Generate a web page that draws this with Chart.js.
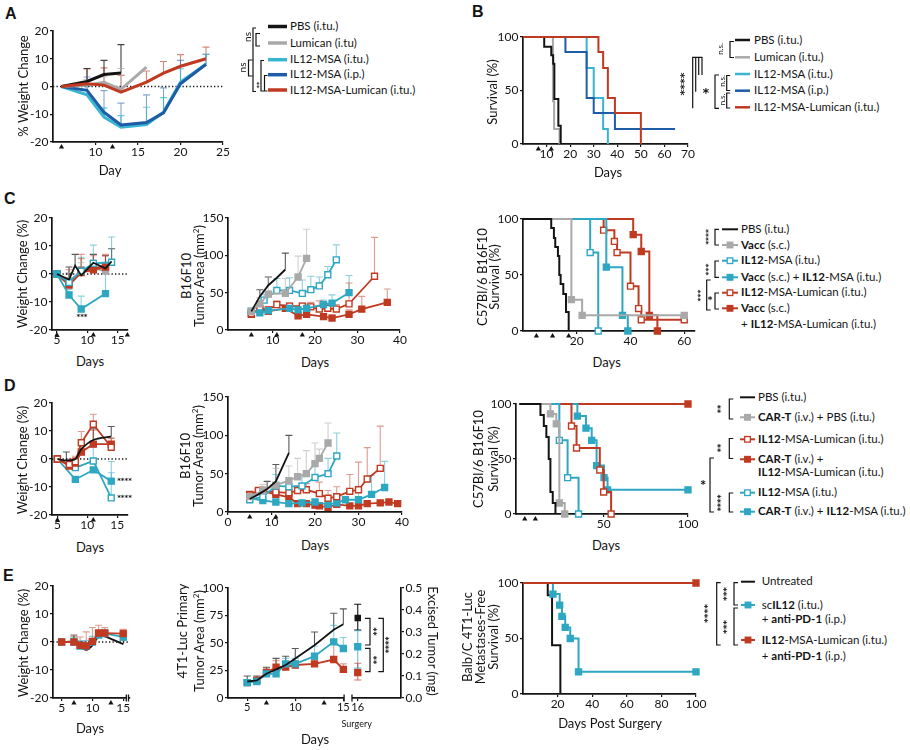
<!DOCTYPE html>
<html lang="en">
<head>
<meta charset="UTF-8" />
<title>IL12-MSA-Lumican figure</title>
<script src="https://cdn.jsdelivr.net/npm/chart.js"></script>
<style>
  body { margin: 0; background: #fff; }
  #fig { position: relative; width: 910px; height: 750px; overflow: hidden;
         font-family: "Liberation Sans Narrow", Lato, "Noto Sans", sans-serif; color: #141414; }
  #fig canvas { position: absolute; }
  .t { position: absolute; white-space: nowrap; font-size: 13px; line-height: 1; }
  .lg { position: absolute; white-space: nowrap; font-size: 11.5px; line-height: 14px; }
  .lt { position: absolute; font-weight: bold; font-size: 16px; line-height: 1; font-family: "Liberation Sans", Arial, sans-serif; }
  svg.ov { position: absolute; left: 0; top: 0; }
</style>
</head>
<body>
<div id="fig"></div>
<script>
const INK = '#141414', GREY = '#a9a9a9', CYAN = '#38b5d0', BLUE = '#1f5ca8', RED = '#c03a22', TEAL = '#2ea7c2';
const FONT = '"Liberation Sans Narrow", Lato, "Noto Sans", sans-serif';
const STAR_FONT = '"DejaVu Sans", sans-serif';

// ---------- A: weight change ----------
const aDays = [6, 9, 11, 13, 16, 18, 20, 23];
const aPBS = [0, 1.8, 4.3, 4.9];
const aPBSErr = [0, 4.7, 5.1, 10.2];
const aLum = [0, 0.5, 1.5, -1, 7];
const aLumErr = [0, 2, 2, 7.5, 0];
const aIL12itu = [0, -3, -11, -14.7, -13.7, -9.3, 1.6, 8];
const aIL12ituErr = [0, 3, 3.3, 4.2, 6.2, 5.3, 4.8, 3.6];
const aIL12ip = [0, -1.4, -9.3, -13.9, -13, -9.5, 1, 8];
const aIL12ipErr = [0, 4.8, 7.8, 7.9, 10, 9, 8.4, 3.6];
const aIL12Lum = [0, 1, 0.5, -2, 1.6, 4.8, 7.3, 10];
const aIL12LumErr = [0, 5.3, 6.2, 6, 4, 4.2, 4.2, 4.2];
const aXTicks = [10, 15, 20, 25];
const aDoses = [6, 12];
const weightTicks = [-20, -10, 0, 10, 20];

// ---------- B: survival ----------
const bPBSx = [0, 9, 12, 12.8, 13.3, 15, 16], bPBSy = [100, 91, 83, 75, 42, 17, 0];
const bLumX = [0, 12.7, 13.2, 15.5], bLumY = [100, 40, 14, 0];
const bItuX = [0, 27, 30, 34, 36], bItuY = [100, 71, 43, 14, 0];
const bIpX = [0, 18, 27, 30, 39, 64.5], bIpY = [100, 86, 43, 29, 14, 14];
const bLumIlX = [0, 32, 34, 36, 39, 50], bLumIlY = [100, 86, 71, 43, 29, 0];
const bXTicks = [10, 20, 30, 40, 50, 60, 70];
const bDoses = [6.5, 12];
const survTicks = [0, 50, 100];

// ---------- C: weight ----------
const cwPBSx = [5, 7, 8, 9, 11, 13, 14], cwPBS = [0, -2, 3, -0.5, 4, 2, 4.5], cwPBSErr = [0, 4.5, 4, 3, 3, 4.5, 4.5];
const cwVaccX = [5, 7, 9, 11, 13], cwVacc = [0, -2.5, 1, 2, 1], cwVaccErr = [0, 3, 3, 3, 3];
const cwIL12x = [5, 7, 9, 11, 14], cwIL12 = [0, -3, 1, 3.8, 4.2], cwIL12Err = [0, 3, 5, 6.5, 9];
const cwVaccIL12x = [5, 7, 9, 13], cwVaccIL12 = [0, -7.5, -12.5, -7], cwVaccIL12Err = [0, 2, 4.6, 9];
const cwLumX = [5, 7, 9, 11, 13], cwLum = [0, -3.5, 1, 2, 3], cwLumErr = [0, 5, 6, 4.5, 4];
const cwVaccLum = [0, -4, 0.5, 1.5, 2.5], cwVaccLumErr = [0, 4, 5, 3, 4];
const smallDayTicks = [5, 10, 15];
const cwDoses = [5, 11, 16.6];

// ---------- C: tumor area ----------
const ctPBSx = [5, 7, 9, 11, 13], ctPBS = [25, 45, 60, 70, 81], ctPBSErr = [0, 9, 11, 0, 22];
const ctVaccX = [5, 7, 9, 13, 16, 18], ctVacc = [25, 35, 48, 49, 71, 96], ctVaccErr = [0, 8, 23, 20, 28, 39];
const ctIL12x = [5, 8, 11, 14, 17, 19, 21, 23, 25], ctIL12 = [25, 40, 53, 53, 49, 54, 59, 74, 94], ctIL12Err = [0, 8, 16, 17, 18, 18, 12, 11, 20];
const ctVaccIL12x = [5, 7, 9, 14, 16, 18, 22, 24, 28], ctVaccIL12 = [25, 23, 26, 29, 27, 29, 34, 36, 50], ctVaccIL12Err = [0, 0, 3, 4, 4, 6, 6, 11, 23];
const ctLumX = [5, 7, 9, 11, 14, 17, 19, 21, 23, 25, 28, 34], ctLum = [22, 28, 27, 34, 32, 32, 31, 28, 29, 28, 35, 72], ctLumErr = [3, 9, 4, 5, 4, 4, 6, 11, 7, 6, 28, 52];
const ctVaccLumX = [5, 7, 9, 13, 16, 18, 22, 24, 28, 31, 37], ctVaccLum = [21, 28, 25, 29, 19, 21, 18, 16, 21, 28, 37], ctVaccLumErr = [3, 5, 4, 4, 4, 4, 4, 4, 6, 17, 18];
const tumorTicks = [0, 50, 100, 150];
const ctXTicks = [10, 20, 30, 40];
const ctDoses = [5, 11, 17];

// ---------- C: survival ----------
const csPBSx = [0, 10.5, 11.5, 12, 13, 13.5, 14, 15, 16, 17], csPBSy = [100, 92, 83, 75, 67, 50, 42, 33, 17, 0];
const csVaccX = [0, 18, 22, 60], csVaccY = [100, 28, 14, 14];
const csIL12x = [0, 25, 28], csIL12y = [100, 70, 0];
const csVaccIL12x = [0, 31, 37, 39], csVaccIL12y = [100, 57, 14, 0];
const csLumX = [0, 30, 34, 35, 40, 43, 44, 60], csLumY = [100, 90, 80, 70, 40, 20, 10, 10];
const csVaccLumX = [0, 41, 44, 47, 50], csVaccLumY = [100, 86, 71, 14, 0];
const csXTicks = [20, 40, 60];
const csDoses = [5, 11, 17];

// ---------- D: weight ----------
const dwPBSx = [5, 6.5, 8, 9, 11, 14], dwPBS = [0, -0.5, 0, 3.5, 6.8, 8], dwPBSErr = [0, 3, 0, 0, 4, 3.6];
const dwLumX = [5, 7, 8, 9, 11, 14], dwLum = [0, -2, -1, 5.8, 12.4, 4.2], dwLumErr = [0, 2, 2, 4, 3.6, 3.4];
const dwCarLum = [0, -2.5, -1.5, 2.5, 5.3, 5.3], dwCarLumErr = [0, 2, 2, 4, 5, 2];
const dwIL12x = [5, 8, 11, 14], dwIL12 = [0, -3.1, -0.7, -13.9], dwIL12Err = [0, 2, 5, 13];
const dwCarIL12 = [0, -7.3, -3.9, -7.9], dwCarIL12Err = [0, 0, 0, 3];
const dwDoses = [5, 11];

// ---------- D: tumor area ----------
const dtPBSx = [5, 7, 9, 11, 14], dtPBS = [17, 23, 30, 40, 77], dtPBSErr = [0, 5, 10, 22, 23];
const dtCarX = [5, 8, 11, 14, 16, 18, 20, 21, 23], dtCar = [20, 28, 35, 41, 46, 50, 63, 70, 90], dtCarErr = [0, 8, 22, 19, 24, 30, 27, 12, 26];
const dtIL12x = [5, 8, 11, 14, 17, 20, 23, 25], dtIL12 = [16, 20, 34, 33, 34, 45, 50, 73], dtIL12Err = [0, 0, 15, 10, 12, 20, 20, 30];
const dtCarIL12x = [5, 8, 11, 14, 17, 20, 23, 25, 27, 30, 33, 36], dtCarIL12 = [18, 15, 13, 11, 12, 13, 10, 12, 16, 16, 23, 32], dtCarIL12Err = [0, 0, 0, 0, 0, 0, 0, 0, 3, 15, 25, 34];
const dtLumX = [5, 7, 8, 11, 14, 16, 18, 21, 23, 25, 28, 30, 32, 35], dtLum = [22, 28, 27, 26, 25, 28, 29, 24, 18, 20, 27, 29, 43, 57], dtLumErr = [4, 4, 6, 6, 5, 6, 8, 15, 10, 13, 22, 36, 41, 55];
const dtCarLumX = [5, 7, 8, 11, 14, 16, 18, 20, 21, 23, 25, 28, 30, 32, 35, 37, 39], dtCarLum = [23, 27, 27, 23, 19, 11, 11, 9, 8, 6, 10, 8, 8, 11, 12, 13, 11], dtCarLumErr = [3, 3, 3, 3, 3, 2, 2, 2, 2, 2, 2, 2, 2, 2, 2, 2, 2];
const dtXTicks = [0, 10, 20, 30, 40];
const dtDoses = [5, 11];

// ---------- D: survival ----------
const dsPBSx = [0, 12.5, 14.5, 16, 17.4, 18.4, 19.8, 21.4], dsPBSy = [100, 90, 80, 70, 50, 20, 10, 0];
const dsCarX = [0, 18.4, 21.9, 23.7, 26.9], dsCarY = [100, 91, 82, 10, 0];
const dsLumX = [0, 30.9, 33.9, 47.7, 50, 54.4], dsLumY = [100, 80, 60, 40, 20, 0];
const dsCarLumX = [0, 100], dsCarLumY = [100, 100];
const dsIL12x = [0, 23.7, 28.6, 35.1], dsIL12y = [100, 67, 33, 0];
const dsCarIL12x = [0, 34.4, 39.5, 42.9, 45.8, 50.2, 52.3, 100], dsCarIL12y = [100, 89, 78, 67, 44, 33, 22, 22];
const dsXTicks = [50, 100];
const dsDoses = [3.2, 9.5];

// ---------- E: weight ----------
const ewDays = [5, 7, 8, 9, 10, 11, 12, 15];
const ewLum = [0, 0, -1.2, -1.4, 0.2, 3.2, 3.2, 3], ewLumErr = [0, 2, 3, 5, 5, 2.8, 2, 1.5];
const ewSc = [0, 0, -1.5, -1.5, 0, 2.5, 3, 1.8], ewScErr = [0, 1.5, 2, 2, 2, 1.5, 1.5, 1.5];
const ewUnt = [0, 0, -1.5, -2.8, -1.2, 2, 2, -0.8], ewUntErr = [0, 2.5, 1.5, 2, 2, 2, 2, 1.5];
const ewDoses = [7, 13];

// ---------- E: primary tumor and excised tumor ----------
const etDays = [5, 6, 7, 8, 9, 10, 12, 14, 15];
const etUnt = [15, 16, 22, 26, 30, 36, 48, 62, 67], etUntErr = [5, 4, 6, 10, 8, 9, 12, 15, 14];
const etSc = [14, 15, 22, 22, 31, 31, 38, 51, 45], etScErr = [2, 3, 4, 4, 5, 5, 9, 15, 10];
const etLum = [14, 16, 23, 28, 28, 30, 31, 35, 26], etLumErr = [2, 3, 4, 6, 5, 4, 4, 14, 5];
const etXTicks = [5, 10, 15, 16.5], etXLabels = ['5', '10', '15', '16'];
const etYTicks = [0, 25, 50, 75, 100];
const exDay = [16.5];
const exUnt = [0.364], exUntUp = [0.062], exUntLo = [0.055];
const exSc = [0.233], exScUp = [0.073], exScLo = [0.097];
const exLum = [0.115], exLumUp = [0.043], exLumLo = [0.033];
const exTicks = [0, 0.1, 0.2, 0.3, 0.4, 0.5];
const etDoses = [7, 13];

// ---------- E: metastasis-free survival ----------
const esUntX = [0, 14.3, 16.8, 21.6], esUntY = [100, 89, 44, 0];
const esScX = [0, 17.3, 21.2, 22.5, 24.4, 27.3, 32.1, 100], esScY = [100, 90, 80, 70, 60, 50, 20, 20];
const esLumX = [0, 100], esLumY = [100, 100];
const esXTicks = [20, 40, 60, 80, 100];

// ================= plugins =================
const errorBars = {
  id: 'errorBars',
  beforeDatasetsDraw(chart) {
    const ctx = chart.ctx;
    chart.data.datasets.forEach((ds, i) => {
      if (!ds.err) return;
      const meta = chart.getDatasetMeta(i), ys = chart.scales[meta.yAxisID];
      ctx.save();
      ctx.strokeStyle = ds.errColor || ds.borderColor;
      ctx.lineWidth = 1.1;
      meta.data.forEach((p, j) => {
        const e = ds.err[j];
        if (!e) return;
        const v = ds.data[j].y;
        const top = ys.getPixelForValue(v + e);
        const lo = ds.errLo ? ds.errLo[j] : 0;
        const bot = lo ? ys.getPixelForValue(v - lo) : p.y;
        ctx.beginPath();
        ctx.moveTo(p.x, bot); ctx.lineTo(p.x, top);
        ctx.moveTo(p.x - 3.5, top); ctx.lineTo(p.x + 3.5, top);
        if (lo) { ctx.moveTo(p.x - 3.5, bot); ctx.lineTo(p.x + 3.5, bot); }
        ctx.stroke();
      });
      ctx.restore();
    });
  }
};

const doses = {
  id: 'doses',
  afterDraw(chart, args, opts) {
    if (!opts.days) return;
    const {ctx, chartArea} = chart, x = chart.scales.x;
    ctx.save();
    ctx.fillStyle = INK;
    opts.days.forEach(d => {
      const px = x.getPixelForValue(d), py = chartArea.bottom + 2;
      ctx.beginPath();
      ctx.moveTo(px, py); ctx.lineTo(px - 2.6, py + 4.5); ctx.lineTo(px + 2.6, py + 4.5);
      ctx.closePath(); ctx.fill();
    });
    ctx.restore();
  }
};

const axisBreak = {
  id: 'axisBreak',
  afterDraw(chart, args, opts) {
    if (!opts.at) return;
    const {ctx, chartArea} = chart, x = chart.scales.x, y = chartArea.bottom;
    const p1 = x.getPixelForValue(opts.at[0]), p2 = x.getPixelForValue(opts.at[1]);
    ctx.save();
    ctx.fillStyle = '#fff';
    ctx.fillRect(p1, y - 2, p2 - p1, 4);
    ctx.strokeStyle = INK; ctx.lineWidth = 1.3;
    ctx.beginPath();
    [p1, p2].forEach(p => { ctx.moveTo(p, y - 3.5); ctx.lineTo(p, y + 3.5); });
    ctx.stroke();
    ctx.restore();
  }
};
Chart.register(errorBars, doses, axisBreak);

// ================= helpers =================
const fig = document.getElementById('fig');
const YW = 34, YR = 30, XH = 22, PT = 8, PR = 14;

function pts(xs, ys) { return ys.map((y, i) => ({x: xs[i], y})); }
function line(label, xs, ys, color, w, extra) {
  return Object.assign({label, data: pts(xs, ys), borderColor: color, backgroundColor: color,
    borderWidth: w, pointRadius: 0, clip: false, tension: 0, fill: false}, extra || {});
}
function marked(label, xs, ys, color, open, extra) {
  return line(label, xs, ys, color, 1.8, Object.assign({pointStyle: 'rect', pointRadius: 4.2,
    pointBorderWidth: 1.4, pointBorderColor: color, pointBackgroundColor: open ? '#fff' : color}, extra || {}));
}
function km(label, xs, ys, color, mk, open) {
  const ds = line(label, xs, ys, color, 2, {stepped: 'before'});
  if (mk) Object.assign(ds, {pointStyle: 'rect', pointRadius: ys.map((_, i) => i ? 4.2 : 0),
    pointBorderWidth: 1.4, pointBorderColor: color, pointBackgroundColor: open ? '#fff' : color});
  return ds;
}
function zero(x0, x1) { return line('zero', [x0, x1], [0, 0], INK, 1.3, {borderDash: [1.3, 2.2]}); }
function eb(color, a) { return color.replace(/^#(..)(..)(..)$/, (m, r, g, b) => `rgba(${parseInt(r, 16)},${parseInt(g, 16)},${parseInt(b, 16)},${a})`); }

function axis(pos, min, max, ticks, labels, size) {
  const horiz = pos === 'bottom';
  const cfg = {
    type: 'linear', position: pos, min, max,
    border: {display: true, color: INK, width: 1.7},
    grid: {drawOnChartArea: false, color: INK, lineWidth: 1.2, tickLength: 3},
    ticks: {color: INK, font: {family: FONT, size: size || 12}, padding: horiz ? 0 : 1.5, autoSkip: false, maxRotation: 0},
    afterBuildTicks: s => { s.ticks = ticks.map(v => ({value: v})); },
    afterFit: s => {
      if (horiz) s.height = XH; else s.width = pos === 'right' ? YR : YW;
      s.paddingLeft = s.paddingRight = s.paddingTop = s.paddingBottom = 0;
    }
  };
  if (labels) cfg.ticks.callback = (v, i) => labels[i];
  return cfg;
}

function plot(box, scales, datasets, plugins, yr) {
  yr = yr || 0;
  const [l, t, r, b] = box.map(Math.round);
  const W = r - l + YW + PR + yr, H = b - t + PT + XH;
  const cv = document.createElement('canvas');
  cv.width = W; cv.height = H;
  cv.style.left = (l - YW) + 'px'; cv.style.top = (t - PT) + 'px';
  cv.style.width = W + 'px'; cv.style.height = H + 'px';
  fig.appendChild(cv);
  return new Chart(cv, {
    type: 'line',
    data: {datasets},
    options: {
      responsive: false, animation: false, events: [],
      layout: {padding: {top: PT, right: PR, left: 0, bottom: 0}},
      plugins: Object.assign({legend: {display: false}, tooltip: {enabled: false}}, plugins || {}),
      scales
    }
  });
}

// ================= charts =================
// A
plot([53, 31, 222.5, 142], {x: axis('bottom', 5, 25, aXTicks), y: axis('left', -20, 20, weightTicks)}, [
  line('IL12-MSA-Lumican', aDays, aIL12Lum, RED, 3, {err: aIL12LumErr, errColor: eb(RED, 0.6)}),
  line('PBS', aDays, aPBS, INK, 3, {err: aPBSErr, errColor: eb(INK, 0.8)}),
  line('Lumican', aDays, aLum, GREY, 3, {err: aLumErr, errColor: eb(GREY, 0.7)}),
  line('IL12-MSA i.p.', aDays, aIL12ip, BLUE, 3, {err: aIL12ipErr, errColor: eb(BLUE, 0.55)}),
  line('IL12-MSA i.tu.', aDays, aIL12itu, CYAN, 3, {err: aIL12ituErr, errColor: eb(CYAN, 0.7)}),
  zero(5, 25)
], {doses: {days: aDoses}});

// B
plot([523, 37.3, 688.3, 144], {x: axis('bottom', 0, 70, bXTicks), y: axis('left', 0, 100, survTicks)}, [
  km('IL12-MSA-Lumican', bLumIlX, bLumIlY, RED),
  km('IL12-MSA i.p.', bIpX, bIpY, BLUE),
  km('IL12-MSA i.tu.', bItuX, bItuY, CYAN),
  km('PBS', bPBSx, bPBSy, INK),
  km('Lumican', bLumX, bLumY, GREY)
], {doses: {days: bDoses}});

// C weight
plot([52.3, 218.3, 128.3, 330], {x: axis('bottom', 4.2, 16.7, smallDayTicks), y: axis('left', -20, 20, weightTicks)}, [
  line('PBS', cwPBSx, cwPBS, INK, 1.8, {err: cwPBSErr, errColor: eb(INK, 0.7)}),
  marked('Vacc + IL12-MSA', cwVaccIL12x, cwVaccIL12, TEAL, false, {err: cwVaccIL12Err, errColor: eb(TEAL, 0.55)}),
  marked('IL12-MSA', cwIL12x, cwIL12, TEAL, true, {err: cwIL12Err, errColor: eb(TEAL, 0.55)}),
  marked('Vacc + IL12-MSA-Lumican', cwLumX, cwVaccLum, RED, false, {err: cwVaccLumErr, errColor: eb(RED, 0.5)}),
  marked('IL12-MSA-Lumican', cwLumX, cwLum, RED, true, {err: cwLumErr, errColor: eb(RED, 0.5)}),
  marked('Vacc', cwVaccX, cwVacc, GREY, false, {err: cwVaccErr, errColor: eb(GREY, 0.6)}),
  zero(4.2, 16.7)
], {doses: {days: cwDoses}});

// C tumor
plot([228.3, 218.3, 400, 330], {x: axis('bottom', -0.5, 40, ctXTicks), y: axis('left', 0, 150, tumorTicks)}, [
  line('PBS', ctPBSx, ctPBS, INK, 1.8, {err: ctPBSErr, errColor: eb(INK, 0.7)}),
  marked('Vacc', ctVaccX, ctVacc, GREY, false, {err: ctVaccErr, errColor: eb(GREY, 0.55)}),
  marked('IL12-MSA', ctIL12x, ctIL12, TEAL, true, {err: ctIL12Err, errColor: eb(TEAL, 0.55)}),
  marked('Vacc + IL12-MSA', ctVaccIL12x, ctVaccIL12, TEAL, false, {err: ctVaccIL12Err, errColor: eb(TEAL, 0.55)}),
  marked('IL12-MSA-Lumican', ctLumX, ctLum, RED, true, {err: ctLumErr, errColor: eb(RED, 0.5)}),
  marked('Vacc + IL12-MSA-Lumican', ctVaccLumX, ctVaccLum, RED, false, {err: ctVaccLumErr, errColor: eb(RED, 0.5)})
], {doses: {days: ctDoses}});

// C survival
plot([523.3, 219.3, 695, 330.7], {x: axis('bottom', 0, 64, csXTicks), y: axis('left', 0, 100, survTicks)}, [
  km('PBS', csPBSx, csPBSy, INK),
  km('Vacc', csVaccX, csVaccY, GREY, true, false),
  km('IL12-MSA', csIL12x, csIL12y, TEAL, true, true),
  km('Vacc + IL12-MSA', csVaccIL12x, csVaccIL12y, TEAL, true, false),
  km('IL12-MSA-Lumican', csLumX, csLumY, RED, true, true),
  km('Vacc + IL12-MSA-Lumican', csVaccLumX, csVaccLumY, RED, true, false)
], {doses: {days: csDoses}});

// D weight
plot([51.7, 403.3, 128.3, 515], {x: axis('bottom', 4.1, 16.8, smallDayTicks), y: axis('left', -20, 20, weightTicks)}, [
  line('PBS', dwPBSx, dwPBS, INK, 1.8, {tension: 0.3, err: dwPBSErr, errColor: eb(INK, 0.7)}),
  marked('IL12-MSA-Lumican', dwLumX, dwLum, RED, true, {err: dwLumErr, errColor: eb(RED, 0.5)}),
  marked('CAR-T + IL12-MSA-Lumican', dwLumX, dwCarLum, RED, false, {err: dwCarLumErr, errColor: eb(RED, 0.5)}),
  marked('IL12-MSA', dwIL12x, dwIL12, TEAL, true, {err: dwIL12Err, errColor: eb(TEAL, 0.55)}),
  marked('CAR-T + IL12-MSA', dwIL12x, dwCarIL12, TEAL, false, {err: dwCarIL12Err, errColor: eb(TEAL, 0.55)}),
  zero(4.1, 16.8)
], {doses: {days: dwDoses}});

// D tumor
plot([227.7, 396.7, 401.7, 511.7], {x: axis('bottom', 0, 40, dtXTicks), y: axis('left', 0, 150, tumorTicks)}, [
  line('PBS', dtPBSx, dtPBS, INK, 1.8, {err: dtPBSErr, errColor: eb(INK, 0.7)}),
  marked('CAR-T + PBS', dtCarX, dtCar, GREY, false, {err: dtCarErr, errColor: eb(GREY, 0.55)}),
  marked('IL12-MSA', dtIL12x, dtIL12, TEAL, true, {err: dtIL12Err, errColor: eb(TEAL, 0.55)}),
  marked('IL12-MSA-Lumican', dtLumX, dtLum, RED, true, {err: dtLumErr, errColor: eb(RED, 0.5)}),
  marked('CAR-T + IL12-MSA', dtCarIL12x, dtCarIL12, TEAL, false, {err: dtCarIL12Err, errColor: eb(TEAL, 0.55)}),
  marked('CAR-T + IL12-MSA-Lumican', dtCarLumX, dtCarLum, RED, false, {err: dtCarLumErr, errColor: eb(RED, 0.5)})
], {doses: {days: dtDoses}});

// D survival
plot([515.5, 404, 687.7, 514], {x: axis('bottom', -2, 100, dsXTicks), y: axis('left', 0, 100, survTicks)}, [
  km('PBS', dsPBSx, dsPBSy, INK),
  km('CAR-T + PBS', dsCarX, dsCarY, GREY, true, false),
  km('IL12-MSA', dsIL12x, dsIL12y, TEAL, true, true),
  km('IL12-MSA-Lumican', dsLumX, dsLumY, RED, true, true),
  km('CAR-T + IL12-MSA', dsCarIL12x, dsCarIL12y, TEAL, true, false),
  km('CAR-T + IL12-MSA-Lumican', dsCarLumX, dsCarLumY, RED, true, false)
], {doses: {days: dsDoses}});

// E weight
plot([53.3, 586, 130, 697.7], {x: axis('bottom', 3.6, 16.1, smallDayTicks), y: axis('left', -20, 20, weightTicks)}, [
  marked('IL12-MSA-Lumican + anti-PD-1', ewDays, ewLum, RED, false, {err: ewLumErr, errColor: eb(RED, 0.5)}),
  marked('scIL12 + anti-PD-1', ewDays, ewSc, TEAL, false, {err: ewScErr, errColor: eb(TEAL, 0.55)}),
  line('Untreated', ewDays, ewUnt, INK, 1.8, {tension: 0.3, err: ewUntErr, errColor: eb(INK, 0.6)}),
  zero(3.6, 16.1)
], {doses: {days: ewDoses}, axisBreak: {at: [15.5, 15.85]}});

// E tumor + excised tumor
plot([228.3, 587.7, 400.7, 698.3], {
  x: axis('bottom', 3, 21, etXTicks, etXLabels, 11),
  y: axis('left', 0, 100, etYTicks),
  y2: axis('right', 0, 0.5, exTicks, exTicks.map(v => v.toFixed(1)))
}, [
  line('Untreated', etDays, etUnt, INK, 1.8, {err: etUntErr, errColor: eb(INK, 0.7)}),
  marked('scIL12 + anti-PD-1', etDays, etSc, TEAL, false, {err: etScErr, errColor: eb(TEAL, 0.55)}),
  marked('IL12-MSA-Lumican + anti-PD-1', etDays, etLum, RED, false, {err: etLumErr, errColor: eb(RED, 0.5)}),
  marked('Untreated excised', exDay, exUnt, INK, false, {yAxisID: 'y2', pointRadius: 3.6, err: exUntUp, errLo: exUntLo}),
  marked('scIL12 excised', exDay, exSc, TEAL, false, {yAxisID: 'y2', err: exScUp, errLo: exScLo, errColor: eb(TEAL, 0.7)}),
  marked('Lumican excised', exDay, exLum, RED, false, {yAxisID: 'y2', err: exLumUp, errLo: exLumLo, errColor: eb(RED, 0.7)})
], {doses: {days: etDoses}, axisBreak: {at: [15.08, 15.9]}}, YR);

// E survival
plot([523.3, 583.3, 696, 694], {x: axis('bottom', 0, 100, esXTicks), y: axis('left', 0, 100, survTicks)}, [
  km('IL12-MSA-Lumican + anti-PD-1', esLumX, esLumY, RED, true, false),
  km('scIL12 + anti-PD-1', esScX, esScY, TEAL, true, false),
  km('Untreated', esUntX, esUntY, INK)
]);

// ================= text, legends, brackets =================
const html = [];
const svg = [];
function txt(s, cx, cy, rot, size) {
  const tr = rot ? ` rotate(${rot}deg)` : '';
  html.push(`<div class="t" style="left:${cx}px;top:${cy}px;transform:translate(-50%,-50%)${tr};${size ? 'font-size:' + size + 'px' : ''}">${s}</div>`);
}
function letter(s, x, y) { html.push(`<div class="lt" style="left:${x}px;top:${y}px">${s}</div>`); }
function sample(x1, x2, y, color, mk, w) {
  svg.push(`<line x1="${x1}" y1="${y}" x2="${x2}" y2="${y}" stroke="${color}" stroke-width="${w}"/>`);
  if (mk) svg.push(`<rect x="${(x1 + x2) / 2 - 2.8}" y="${y - 2.8}" width="5.6" height="5.6" fill="${mk === 'open' ? '#fff' : color}" stroke="${color}" stroke-width="1.3"/>`);
}
function legend(rows, x1, x2, tx, w) {
  rows.forEach(([y, color, mk, s]) => {
    if (color) sample(x1, x2, y, color, mk, w);
    html.push(`<div class="lg" style="left:${tx}px;top:${y - 7.5}px">${s}</div>`);
  });
}
function br(x, y1, y2, dir, w) {
  dir = dir || 1; w = w || 4;
  svg.push(`<path d="M${x + dir * w} ${y1}H${x}V${y2}H${x + dir * w}" fill="none" stroke="${INK}" stroke-width="1.2"/>`);
}
function path(d) { svg.push(`<path d="${d}" fill="none" stroke="${INK}" stroke-width="1.2"/>`); }
function st(x, y, s, size, rot, fam) {
  svg.push(`<text transform="translate(${x} ${y}) rotate(${rot || 0})" text-anchor="middle" dominant-baseline="central" font-size="${size}" fill="${INK}" font-family='${fam || FONT}'>${s}</text>`);
}
// stars: larger bold glyphs
function stars(x, y, s, size, rot) {
  svg.push(`<text transform="translate(${x} ${y}) rotate(${rot || 0})" text-anchor="middle" dominant-baseline="central" font-size="${size}" font-weight="bold" fill="${INK}" font-family='${STAR_FONT}'>${s}</text>`);
}

letter('A', 5, 6); letter('B', 472, 4); letter('C', 4, 191); letter('D', 4, 378); letter('E', 3, 568);

// axis titles
txt('% Weight Change', 23, 86, -90);
txt('Day', 110, 170);
txt('Survival (%)', 492, 92, -90);
txt('Days', 608, 172);
txt('Weight Change (%)', 22, 274, -90);
txt('Days', 90, 361);
txt('B16F10', 186, 276, -90);
txt('Tumor Area (mm<sup style="font-size:8px">2</sup>)', 199, 276, -90);
txt('Days', 315, 362);
txt('C57Bl/6 B16F10', 481.5, 277, -90);
txt('Survival (%)', 494, 277, -90);
txt('Days', 606.7, 362);
txt('Weight Change (%)', 22, 460, -90);
txt('Days', 90, 546.7);
txt('B16F10', 185, 456, -90);
txt('Tumor Area (mm<sup style="font-size:8px">2</sup>)', 198, 456, -90);
txt('Days', 315, 545);
txt('C57Bl/6 B16F10', 478.3, 459, -90);
txt('Survival (%)', 492.7, 459, -90);
txt('Days', 606, 545);
txt('Weight Change (%)', 23.3, 643, -90);
txt('Days', 90, 728);
txt('4T1-Luc Primary', 181.7, 631, -90);
txt('Tumor Area (mm<sup style="font-size:8px">2</sup>)', 199, 641, -90);
txt('Excised Tumor (mg)', 432, 641, 90);
txt('Surgery', 356.7, 722.7, 0, 9);
txt('Days', 315, 739);
txt('Balb/C 4T1-Luc', 466.7, 637, -90);
txt('Metastases-Free', 480, 637, -90);
txt('Survival (%)', 492.7, 637, -90);
txt('Days Post Surgery', 610, 722.7);

// legends
legend([
  [26.5, INK, null, 'PBS (i.tu.)'],
  [43, GREY, null, 'Lumican (i.tu)'],
  [59.7, CYAN, null, 'IL12-MSA (i.tu.)'],
  [74.7, BLUE, null, 'IL12-MSA (i.p.)'],
  [90, RED, null, 'IL12-MSA-Lumican (i.tu.)']
], 268, 287, 290, 3.5);
legend([
  [40, INK, null, 'PBS (i.tu.)'],
  [57.3, GREY, null, 'Lumican (i.tu.)'],
  [74, CYAN, null, 'IL12-MSA (i.tu.)'],
  [90.7, BLUE, null, 'IL12-MSA (i.p.)'],
  [107.3, RED, null, 'IL12-MSA-Lumican (i.tu.)']
], 735, 750, 754, 2.5);
legend([
  [229.3, INK, null, 'PBS (i.tu.)'],
  [245, GREY, 'fill', '<b>Vacc</b> (s.c.)'],
  [260.7, TEAL, 'open', '<b>IL12</b>-MSA (i.tu.)'],
  [277.3, TEAL, 'fill', '<b>Vacc</b> (s.c.) + <b>IL12</b>-MSA (i.tu.)'],
  [292.7, RED, 'open', '<b>IL12</b>-MSA-Lumican (i.tu.)'],
  [308.3, RED, 'fill', '<b>Vacc</b> (s.c.)'],
  [324, null, null, '+ <b>IL12</b>-MSA-Lumican (i.tu.)']
], 722, 738, 741, 2);
legend([
  [397.3, INK, null, 'PBS (i.tu.)'],
  [417.3, GREY, 'fill', '<b>CAR-T</b> (i.v.) + PBS (i.tu.)'],
  [439.3, RED, 'open', '<b>IL12</b>-MSA-Lumican (i.tu.)'],
  [459.3, RED, 'fill', '<b>CAR-T</b> (i.v.) +'],
  [472.7, null, null, '<b>IL12</b>-MSA-Lumican (i.tu.)'],
  [492.7, TEAL, 'open', '<b>IL12</b>-MSA (i.tu.)'],
  [511.7, TEAL, 'fill', '<b>CAR-T</b> (i.v.) + <b>IL12</b>-MSA (i.tu.)']
], 740, 755, 758, 2);
legend([
  [581.7, INK, null, 'Untreated'],
  [605, TEAL, 'fill', 'sc<b>IL12</b> (i.tu.)'],
  [619.3, null, null, '+ <b>anti-PD-1</b> (i.p.)'],
  [640, RED, 'fill', '<b>IL12</b>-MSA-Lumican (i.tu.)'],
  [656, null, null, '+ <b>anti-PD-1</b> (i.p.)']
], 741, 755, 761.7, 2);

// significance: A
st(246.5, 37, 'ns', 10, -90); br(256, 33.5, 46);
br(253, 28, 91.5, 1, 3);
st(241.5, 67.5, 'ns', 10, -90); br(248.5, 60, 76);
br(261, 60.5, 91, 1, 3); br(264.5, 75.5, 91, 1, 3);
stars(258.5, 85, '**', 6, -90);
// B
st(720, 49, 'n.s.', 8, -90); br(730, 41.5, 57.5);
path('M692.7 108.3V57.3H702V75'); path('M695.7 91.7V57.3'); path('M698.7 75V57.3');
stars(684, 84, '****', 11, -90);
stars(706, 92, '*', 13);
br(715, 75, 108.3);
st(721.7, 81, 'n.s.', 8, -90); st(721.7, 99.5, 'n.s.', 8, -90);
br(726.7, 75.5, 90.5, 1, 3.5); br(726.7, 93, 108, 1, 3.5);
// C
stars(708, 237, '****', 7.5, -90); br(715, 229.3, 245);
stars(708, 269.5, '***', 7.5, -90); br(715, 261, 277.3);
stars(700.5, 295.5, '***', 7.5, -90); br(706.7, 280, 310);
stars(710, 300, '*', 9); br(715, 293, 309);
stars(82, 317, '***', 7);
// D
stars(721.5, 409, '**', 8, -90); br(729.3, 399, 419);
stars(721.5, 448, '**', 8, -90); br(729.3, 438.5, 458.5);
stars(703, 484, '*', 10); br(710, 458, 512);
stars(721.5, 503, '****', 8, -90); br(729.3, 493, 512);
stars(124.5, 481, '****', 7); stars(124.5, 498, '****', 7);
// E
stars(708, 613.5, '****', 9, -90); br(716.7, 582.7, 645);
stars(726.5, 594, '***', 9, -90); br(734, 582.7, 605);
stars(726.5, 627, '***', 9, -90); br(734, 608, 645);
br(370, 618.3, 645, -1, 5); stars(377, 631.5, '**', 8, -90);
br(370, 648.3, 671.7, -1, 5); stars(377, 660, '**', 8, -90);
br(383.3, 618.3, 671.7, -1, 5); stars(389.5, 645, '****', 8, -90);

fig.insertAdjacentHTML('beforeend', html.join('') +
  `<svg class="ov" width="910" height="750" xmlns="http://www.w3.org/2000/svg">${svg.join('')}</svg>`);
</script>
</body>
</html>
